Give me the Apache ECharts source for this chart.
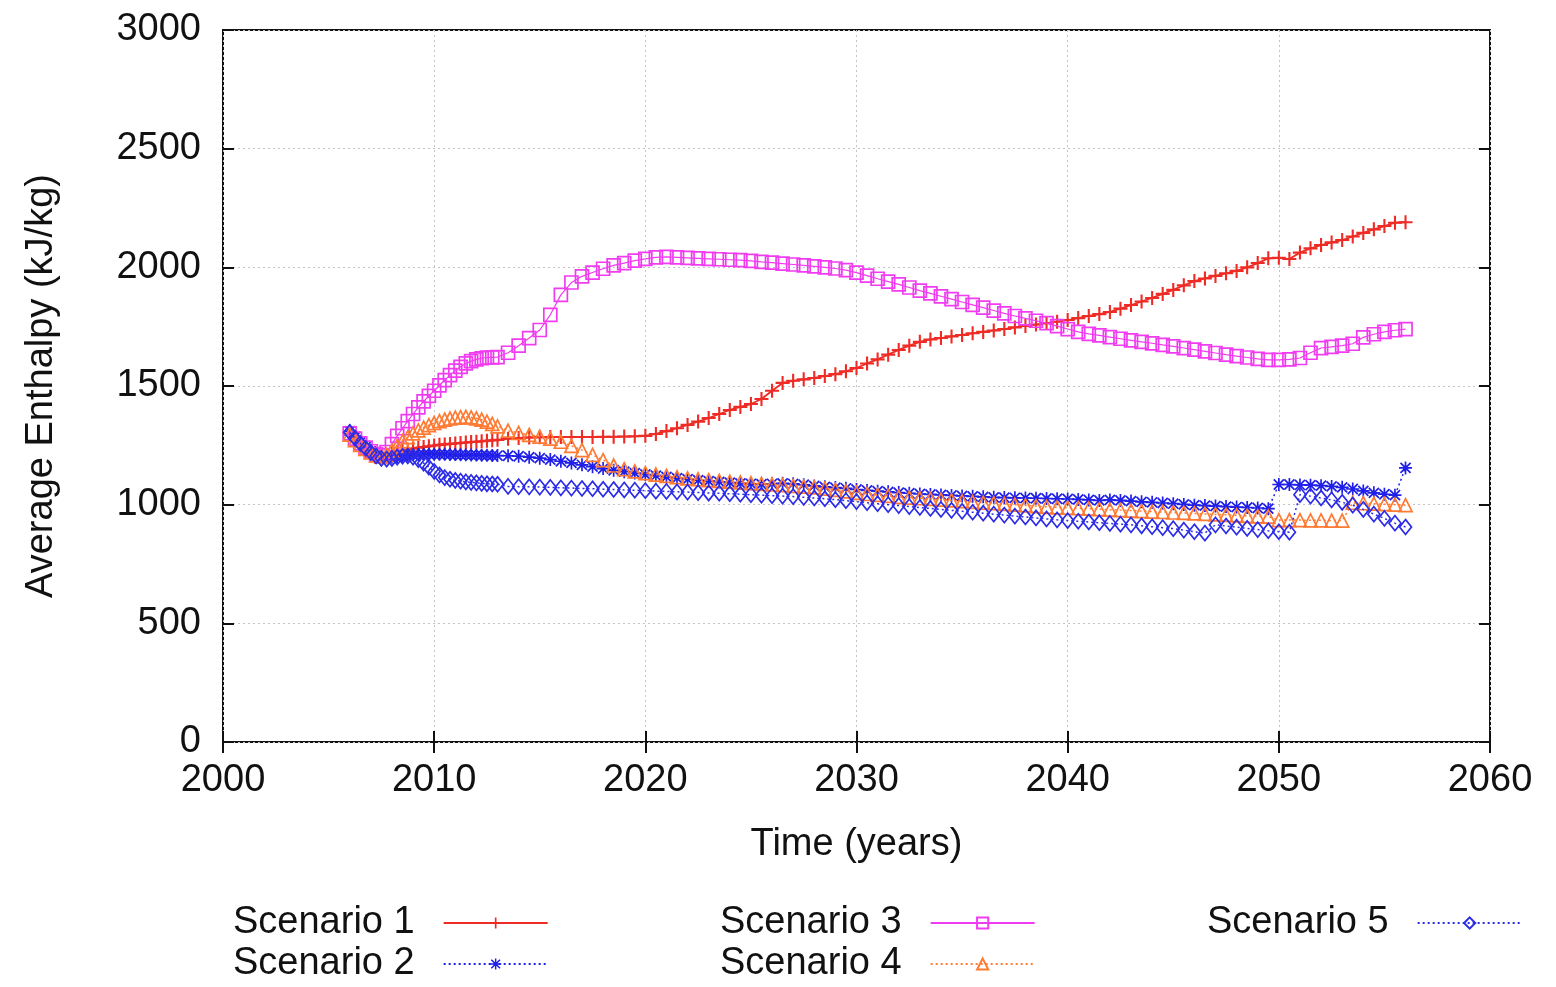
<!DOCTYPE html>
<html>
<head>
<meta charset="utf-8">
<title>Average Enthalpy</title>
<script src="https://cdn.jsdelivr.net/npm/echarts@6/dist/echarts.min.js"></script>
<style>
  html, body { margin: 0; padding: 0; background: #ffffff; }
  #chart { width: 1556px; height: 987px; }
</style>
</head>
<body>
<div id="chart"></div>
<script>
// Simulation output times (years); quarter-year steps early on, half-year steps afterwards
const years = [
  2006, 2006.25, 2006.5, 2006.75, 2007, 2007.25, 2007.5, 2007.75, 2008, 2008.25,
  2008.5, 2008.75, 2009, 2009.25, 2009.5, 2009.75, 2010, 2010.25, 2010.5, 2010.75,
  2011, 2011.25, 2011.5, 2011.75, 2012, 2012.25, 2012.5, 2012.75, 2013,
  2013.5, 2014, 2014.5, 2015, 2015.5, 2016, 2016.5, 2017, 2017.5, 2018,
  2018.5, 2019, 2019.5, 2020, 2020.5, 2021, 2021.5, 2022, 2022.5, 2023,
  2023.5, 2024, 2024.5, 2025, 2025.5, 2026, 2026.5, 2027, 2027.5, 2028,
  2028.5, 2029, 2029.5, 2030, 2030.5, 2031, 2031.5, 2032, 2032.5, 2033,
  2033.5, 2034, 2034.5, 2035, 2035.5, 2036, 2036.5, 2037, 2037.5, 2038,
  2038.5, 2039, 2039.5, 2040, 2040.5, 2041, 2041.5, 2042, 2042.5, 2043,
  2043.5, 2044, 2044.5, 2045, 2045.5, 2046, 2046.5, 2047, 2047.5, 2048,
  2048.5, 2049, 2049.5, 2050, 2050.5, 2051, 2051.5, 2052, 2052.5, 2053,
  2053.5, 2054, 2054.5, 2055, 2055.5, 2056
];

// Average enthalpy (kJ/kg) per scenario
const scenario1 = [
  1300, 1275, 1255, 1238, 1222, 1210, 1203, 1205, 1215, 1222,
  1228, 1232, 1236, 1240, 1243, 1246, 1249, 1252, 1254, 1256,
  1258, 1260, 1262, 1264, 1265, 1267, 1269, 1271, 1273,
  1278, 1281, 1283, 1284, 1285, 1285, 1285, 1285, 1285, 1286,
  1286, 1287, 1288, 1290, 1298, 1310, 1322, 1336, 1350, 1365,
  1382, 1399, 1412, 1424, 1445, 1480, 1513, 1522, 1528, 1534,
  1542, 1550, 1562, 1576, 1595, 1612, 1632, 1652, 1670, 1686,
  1696, 1702, 1709, 1715, 1722, 1728, 1734, 1740, 1747, 1753,
  1759, 1765, 1771, 1778, 1786, 1795, 1803, 1812, 1826, 1841,
  1856, 1871, 1888, 1905, 1924, 1942, 1953, 1964, 1975, 1985,
  2000, 2018, 2038, 2040, 2035, 2062, 2080, 2094, 2105, 2115,
  2130, 2145, 2160, 2174, 2188, 2190
];
const scenario2 = [
  1310, 1285, 1262, 1242, 1225, 1210, 1200, 1198, 1200, 1203,
  1206, 1208, 1210, 1211, 1212, 1212, 1212, 1212, 1212, 1211,
  1211, 1210, 1210, 1209, 1209, 1208, 1208, 1207, 1207,
  1206, 1204, 1200, 1196, 1190, 1183, 1176, 1168, 1160, 1152,
  1145, 1139, 1133, 1127, 1122, 1117, 1112, 1107, 1103, 1099,
  1096, 1093, 1090, 1088, 1086, 1088, 1090, 1088, 1084, 1079,
  1075, 1072, 1069, 1064, 1060, 1057, 1054, 1051, 1048, 1045,
  1043, 1041, 1039, 1037, 1035, 1033, 1031, 1030, 1029, 1028,
  1027, 1026, 1025, 1024, 1022, 1020, 1018, 1020, 1018, 1015,
  1012, 1010, 1007, 1004, 1001, 998, 996, 994, 992, 990,
  988, 986, 983, 1085, 1085, 1083, 1082, 1080, 1077, 1073,
  1066, 1058, 1050, 1044, 1040, 1155
];
const scenario3 = [
  1300, 1278, 1258, 1240, 1225, 1213, 1208, 1222, 1255, 1290,
  1322, 1352, 1382, 1410, 1435, 1458, 1480, 1503, 1525, 1546,
  1565, 1581, 1595, 1605, 1612, 1617, 1620, 1621, 1622,
  1640, 1670, 1702, 1736, 1800, 1884, 1936, 1962, 1978, 1994,
  2008, 2018, 2028, 2036, 2042, 2044, 2042, 2040, 2038, 2036,
  2034, 2032, 2030, 2027, 2023, 2020, 2016, 2012, 2008, 2004,
  2000, 1995, 1988, 1978, 1965, 1952, 1940, 1928, 1915, 1902,
  1890, 1878, 1866, 1854, 1842, 1830, 1818, 1806, 1795, 1785,
  1775, 1765, 1752, 1740, 1728, 1720, 1713, 1706, 1699, 1692,
  1686, 1680, 1673, 1667, 1660, 1653, 1646, 1639, 1632, 1626,
  1620, 1614, 1610, 1610, 1612, 1618, 1640, 1660, 1665, 1670,
  1678, 1705, 1718, 1728, 1735, 1740
];
const scenario4 = [
  1295, 1272, 1252, 1235, 1220, 1208, 1202, 1210, 1228, 1248,
  1268, 1285, 1300, 1313, 1325, 1335, 1344, 1352, 1358, 1363,
  1367, 1369, 1370, 1368, 1364, 1358, 1350, 1340, 1330,
  1312, 1302, 1294, 1287, 1278, 1265, 1248, 1230, 1210, 1188,
  1165, 1150, 1140, 1133, 1127, 1121, 1116, 1111, 1107, 1103,
  1100, 1097, 1094, 1091, 1088, 1085, 1082, 1079, 1076, 1073,
  1068, 1062, 1056, 1050, 1045, 1041, 1037, 1033, 1030, 1027,
  1024, 1021, 1018, 1015, 1012, 1009, 1006, 1003, 1000, 997,
  994, 991, 989, 987, 985, 983, 981, 979, 977, 975,
  973, 971, 969, 967, 965, 963, 961, 959, 957, 955,
  953, 951, 950, 935, 935, 935, 934, 934, 933, 933,
  1008, 1006, 1004, 1002, 1000, 998
];
const scenario5 = [
  1305, 1280, 1258, 1238, 1220, 1205, 1195, 1192, 1195, 1200,
  1204, 1205, 1200, 1190, 1175, 1158, 1140, 1125, 1114, 1107,
  1102, 1099, 1096, 1094, 1092, 1090, 1088, 1087, 1086,
  1077, 1076, 1075, 1074, 1073, 1071, 1070, 1068, 1067, 1065,
  1064, 1062, 1061, 1059, 1057, 1056, 1054, 1053, 1051, 1049,
  1048, 1046, 1044, 1042, 1040, 1038, 1036, 1034, 1031, 1028,
  1025, 1021, 1017, 1013, 1008, 1004, 1000, 996, 992, 988,
  984, 980, 976, 972, 968, 964, 960, 956, 952, 948,
  944, 940, 936, 933, 930, 927, 924, 921, 918, 915,
  911, 907, 903, 899, 893, 886, 880, 915, 910, 905,
  900, 895, 890, 886, 884, 1042, 1036, 1028, 1020, 1010,
  998, 980, 960, 942, 922, 906
];

const seriesNames = ['Scenario 1', 'Scenario 2', 'Scenario 3', 'Scenario 4', 'Scenario 5'];
const seriesValues = [scenario1, scenario2, scenario3, scenario4, scenario5];

const xTicks = { min: 2000, max: 2060, step: 10 };
const yTicks = { min: 0, max: 3000, step: 500 };

// Point glyphs in the gnuplot spirit
const PLUS = 'path://M8.5,0H11.5V8.5H20V11.5H11.5V20H8.5V11.5H0V8.5H8.5Z';
const STAR = 'path://M8.7,0H11.3V8.7H20V11.3H11.3V20H8.7V11.3H0V8.7H8.7Z' +
             'M3.2,1.3L18.7,16.8L16.8,18.7L1.3,3.2Z' +
             'M16.8,1.3L18.7,3.2L3.2,18.7L1.3,16.8Z';

const FONT = '"Liberation Sans", Arial, Helvetica, sans-serif';

const styles = [
  { color: '#ee2b24', symbol: PLUS, size: 14, line: 'solid', lw: 1.8, filled: true },
  { color: '#1f1fe8', symbol: STAR, size: 13, line: [2, 3], lw: 1.5, filled: true },
  { color: '#f03cf0', symbol: 'rect', size: 13, line: 'solid', lw: 1.2, filled: false },
  { color: '#ff7a33', symbol: 'triangle', size: 13, line: [2, 3], lw: 1.5, filled: false },
  { color: '#2c2ce8', symbol: 'diamond', size: [12, 15], line: [2, 3], lw: 1.5, filled: false }
];

const series = seriesNames.map((name, i) => {
  const s = styles[i];
  return {
    name: name,
    type: 'line',
    xAxisIndex: 0,
    yAxisIndex: 0,
    data: years.map((t, k) => [t, seriesValues[i][k]]),
    symbol: s.symbol,
    symbolSize: s.size,
    showAllSymbol: true,
    animation: false,
    lineStyle: { color: s.color, width: s.lw, type: s.line },
    itemStyle: s.filled
      ? { color: s.color, borderWidth: 0 }
      : { color: 'rgba(255,255,255,0)', borderColor: s.color, borderWidth: 1.7 },
    emphasis: { disabled: true },
    z: 3 + i
  };
});

const labelStyle = { color: '#111', fontSize: 38, fontFamily: FONT };

function makeLegend(names, left) {
  return {
    data: names,
    orient: 'vertical',
    left: left,
    top: 904,
    height: 140,
    align: 'right',
    itemWidth: 104,
    itemHeight: 14,
    itemGap: 3,
    padding: 0,
    selectedMode: false,
    textStyle: { color: '#111', fontSize: 38, fontFamily: FONT, padding: [0, 24, 0, 0] }
  };
}

const chart = echarts.init(document.getElementById('chart'), null, { renderer: 'canvas' });

chart.setOption({
  backgroundColor: '#ffffff',
  animation: false,
  grid: {
    left: 223, right: 66, top: 30, bottom: 245,
    show: true, borderColor: '#111', borderWidth: 2, backgroundColor: 'transparent'
  },
  legend: [
    makeLegend(['Scenario 1', 'Scenario 2'], 233),
    makeLegend(['Scenario 3', 'Scenario 4'], 720),
    makeLegend(['Scenario 5'], 1207)
  ],
  xAxis: [
    {
      type: 'value', min: xTicks.min, max: xTicks.max, interval: xTicks.step,
      name: 'Time (years)', nameLocation: 'middle', nameGap: 84,
      nameTextStyle: labelStyle,
      axisLine: { show: false },
      axisTick: { show: true, inside: true, length: 11, lineStyle: { color: '#111', width: 2 } },
      axisLabel: Object.assign({ margin: 20, formatter: v => String(v) }, labelStyle),
      splitLine: { show: true, lineStyle: { color: '#c4c4c4', type: [2, 3], width: 1 } }
    },
    {
      type: 'value', position: 'top', min: xTicks.min, max: xTicks.max, interval: xTicks.step,
      axisLine: { show: false },
      axisTick: { show: true, inside: true, length: 11, lineStyle: { color: '#111', width: 2 } },
      axisLabel: { show: false },
      splitLine: { show: false }
    }
  ],
  yAxis: [
    {
      type: 'value', min: yTicks.min, max: yTicks.max, interval: yTicks.step,
      name: 'Average Enthalpy (kJ/kg)', nameLocation: 'middle', nameGap: 162,
      nameTextStyle: labelStyle,
      axisLine: { show: false },
      axisTick: { show: true, inside: true, length: 11, lineStyle: { color: '#111', width: 2 } },
      axisLabel: Object.assign({ margin: 22, formatter: v => String(v) }, labelStyle),
      splitLine: { show: true, lineStyle: { color: '#c4c4c4', type: [2, 3], width: 1 } }
    },
    {
      type: 'value', position: 'right', min: yTicks.min, max: yTicks.max, interval: yTicks.step,
      axisLine: { show: false },
      axisTick: { show: true, inside: true, length: 11, lineStyle: { color: '#111', width: 2 } },
      axisLabel: { show: false },
      splitLine: { show: false }
    }
  ],
  series: series
});
</script>
</body>
</html>
